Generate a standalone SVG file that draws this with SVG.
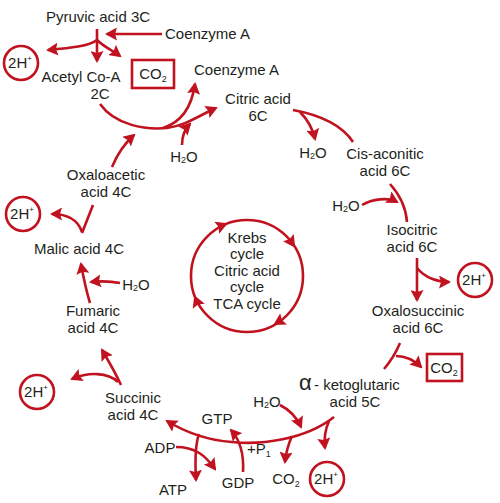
<svg xmlns="http://www.w3.org/2000/svg" width="500" height="503" viewBox="0 0 500 503">
<style>
text{font-family:"Liberation Sans",Arial,sans-serif;font-size:15px;fill:#231f20;text-anchor:middle}
.st{text-anchor:start}
.sub{font-size:9px}
.sup{font-size:8px}
.ln{fill:none;stroke:#c1121f;stroke-width:2.6;marker-end:url(#ah)}
.pl{fill:none;stroke:#c1121f;stroke-width:2.6}
.ring{fill:#fff;stroke:#c1121f;stroke-width:2.6}
.box{fill:#fff;stroke:#c1121f;stroke-width:2.6}
</style>
<defs>
<marker id="ah" viewBox="0 0 12 13" refX="10" refY="6.5" markerWidth="12" markerHeight="13" markerUnits="userSpaceOnUse" orient="auto"><path d="M0,0 L12,6.5 L0,13 L2,6.5 z" fill="#c1121f"/></marker>
<path id="tri" d="M-10,-6.5 L2,0 L-10,6.5 L-8,0 z" fill="#c1121f"/>
</defs>
<g id="connectors">
<path class="ln" d="M97,29 V61"/>
<path class="ln" d="M162,34 H107"/>
<path class="ln" d="M97,40 C90,46 70,48 48,50"/>
<path class="ln" d="M97,40 C104,47 112,50 120,56"/>
<path class="ln" d="M100,104 C115,125 145,130 167,128 C185,126 200,115 216,108"/>
<path class="ln" d="M163,128 C182,122 192,105 195,84"/>
<path class="ln" d="M182,145 C182,135 186,128 190,124"/>
<path class="ln" d="M112,167 C117,155 125,143 134,135"/>
<path class="pl" d="M293,110 C320,115 342,125 353,142"/>
<path class="ln" d="M300,112 C306,118 312,126 315,139"/>
<path class="pl" d="M390,184 C400,195 406,208 407,222"/>
<path class="ln" d="M362,205 C372,199 388,197 397,202"/>
<path class="ln" d="M417,258 V300"/>
<path class="ln" d="M417,268 C425,278 438,282 449,282"/>
<path class="pl" d="M400,343 C395,355 390,362 384,369"/>
<path class="ln" d="M396,356 C405,356 414,360 421,367"/>
<path class="ln" d="M334,417 C305,440 260,445 232,442 C205,440 185,432 167,421"/>
<path class="ln" d="M329,421 C325,430 324,440 325,448"/>
<path class="ln" d="M292,436 C288,445 286,452 285,462"/>
<path class="ln" d="M280,405 C290,410 297,418 301,427"/>
<path class="ln" d="M243,472 C244,455 240,440 231,430"/>
<path class="ln" d="M176,447 C195,447 205,455 215,469"/>
<path class="ln" d="M199,434 C195,445 195,462 196,480"/>
<path class="ln" d="M121,385 C115,372 108,360 102,350"/>
<path class="ln" d="M118,382 C108,372 88,372 72,379"/>
<path class="ln" d="M90,303 C86,290 83,275 81,264"/>
<path class="ln" d="M120,283 C110,281 100,281 91,282"/>
<path class="pl" d="M82,233 L93,205"/>
<path class="ln" d="M82,232 C78,220 68,214 52,214"/>
</g>
<g id="cycle">
<circle cx="247" cy="276" r="56" fill="none" stroke="#c1121f" stroke-width="2.6"/>
<use href="#tri" transform="translate(226,224) rotate(-22)"/>
<use href="#tri" transform="translate(294,246) rotate(56)"/>
<use href="#tri" transform="translate(275,324) rotate(149)"/>
<use href="#tri" transform="translate(195,297) rotate(248)"/>
<text x="247" y="243">Krebs</text>
<text x="247" y="259">cycle</text>
<text x="247" y="276">Citric acid</text>
<text x="247" y="292">cycle</text>
<text x="247" y="309">TCA cycle</text>
</g>
<g id="pyruvic"><text x="98" y="22">Pyruvic acid 3C</text></g>
<g id="coa1"><text class="st" x="165" y="39">Coenzyme A</text></g>
<g id="acetyl"><text x="81" y="82">Acetyl Co-A</text><text x="100" y="99">2C</text></g>
<g id="co2a"><rect class="box" x="132" y="60" width="42" height="28"/><text x="153" y="79">CO<tspan class="sub" dy="3">2</tspan></text></g>
<g id="coa2"><text class="st" x="194" y="75">Coenzyme A</text></g>
<g id="citric"><text x="258" y="104">Citric acid</text><text x="258" y="121">6C</text></g>
<g id="h2o1"><text x="184" y="162">H<tspan class="sub" dy="1">2</tspan><tspan dy="-1">O</tspan></text></g>
<g id="h2o2"><text x="313" y="158">H<tspan class="sub" dy="1">2</tspan><tspan dy="-1">O</tspan></text></g>
<g id="cis"><text x="385" y="159">Cis-aconitic</text><text x="385" y="176">acid 6C</text></g>
<g id="h2o3"><text x="346" y="211">H<tspan class="sub" dy="1">2</tspan><tspan dy="-1">O</tspan></text></g>
<g id="iso"><text x="412" y="235">Isocitric</text><text x="412" y="252">acid 6C</text></g>
<g id="h2a"><circle class="ring" cx="475" cy="280" r="17"/><text x="474" y="285">2H<tspan class="sup" dy="-7">+</tspan></text></g>
<g id="oxalosuccinic"><text x="418" y="316">Oxalosuccinic</text><text x="418" y="333">acid 6C</text></g>
<g id="co2b"><rect class="box" x="427" y="354" width="35" height="27"/><text x="444" y="373">CO<tspan class="sub" dy="3">2</tspan></text></g>
<g id="akg"><text class="st" x="299" y="390" style="font-size:22px">α</text><text class="st" x="314" y="390">- ketoglutaric</text><text x="355" y="407">acid 5C</text></g>
<g id="h2o4"><text x="267" y="407">H<tspan class="sub" dy="1">2</tspan><tspan dy="-1">O</tspan></text></g>
<g id="co2c"><text x="286" y="484">CO<tspan class="sub" dy="3">2</tspan></text></g>
<g id="h2b"><circle class="ring" cx="327" cy="479" r="17"/><text x="326" y="484">2H<tspan class="sup" dy="-7">+</tspan></text></g>
<g id="gtp"><text x="217" y="424">GTP</text></g>
<g id="gdp"><text x="238" y="488">GDP</text></g>
<g id="pi"><text class="st" x="247" y="454">+P<tspan class="sub" dy="3">1</tspan></text></g>
<g id="adp"><text x="160" y="453">ADP</text></g>
<g id="atp"><text x="173" y="495">ATP</text></g>
<g id="succinic"><text x="133" y="403">Succinic</text><text x="133" y="420">acid 4C</text></g>
<g id="h2c"><circle class="ring" cx="37" cy="392" r="17"/><text x="36" y="397">2H<tspan class="sup" dy="-7">+</tspan></text></g>
<g id="fumaric"><text x="93" y="316">Fumaric</text><text x="93" y="333">acid 4C</text></g>
<g id="h2o5"><text x="136" y="290">H<tspan class="sub" dy="1">2</tspan><tspan dy="-1">O</tspan></text></g>
<g id="malic"><text x="79" y="254">Malic acid 4C</text></g>
<g id="h2d"><circle class="ring" cx="23" cy="214" r="17"/><text x="22" y="219">2H<tspan class="sup" dy="-7">+</tspan></text></g>
<g id="oxaloacetic"><text x="106" y="180">Oxaloacetic</text><text x="106" y="197">acid 4C</text></g>
<g id="h2e"><circle class="ring" cx="21" cy="63" r="17"/><text x="20" y="68">2H<tspan class="sup" dy="-7">+</tspan></text></g>
</svg>
